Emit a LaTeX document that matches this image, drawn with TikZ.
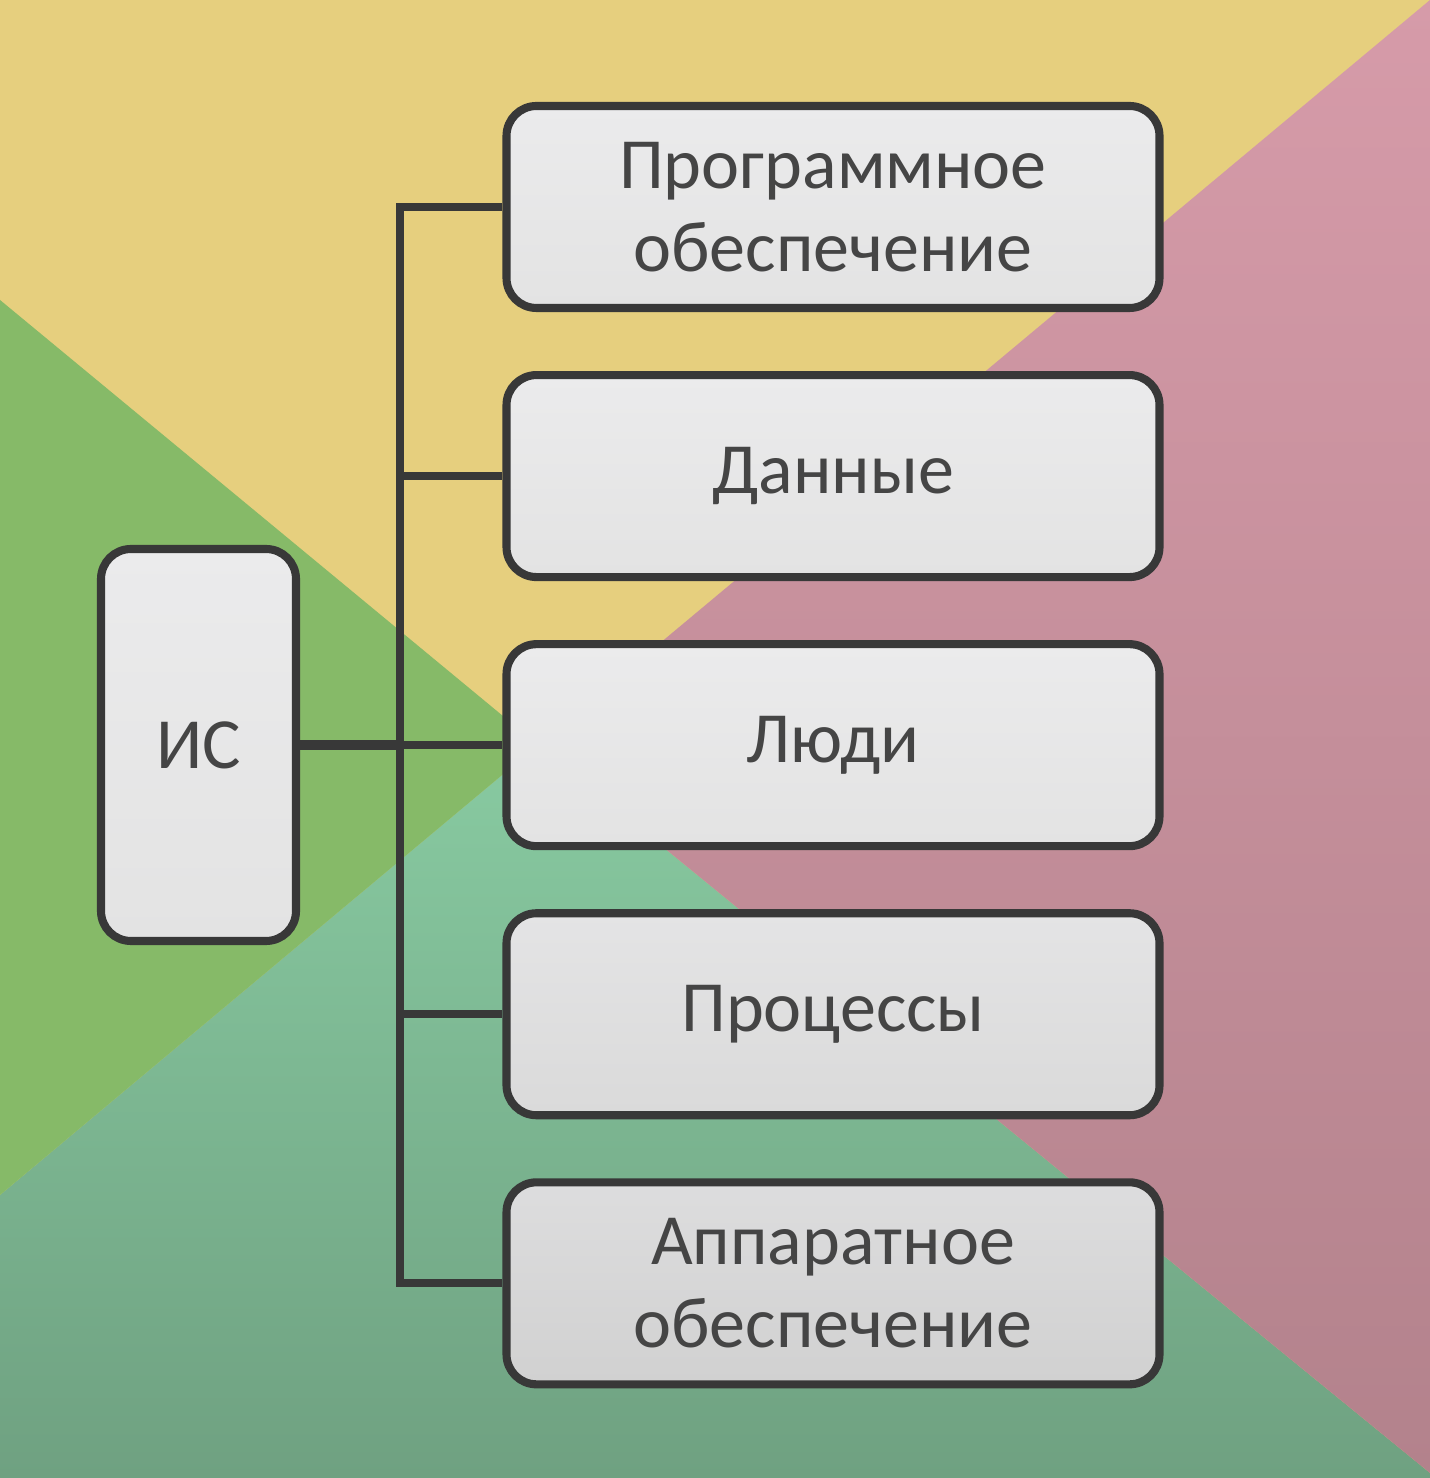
\documentclass[tikz,border=0pt]{standalone}
\usepackage{fontspec}
\setmainfont{Carlito}
\usetikzlibrary{positioning}
\definecolor{bgyellow}{HTML}{E6CF7E}
\definecolor{bggreen}{HTML}{86BA68}
\definecolor{bgtealtop}{HTML}{88CAA1}
\definecolor{bgtealbot}{HTML}{6FA181}
\definecolor{bgpinktop}{HTML}{D69BA9}
\definecolor{bgpinkbot}{HTML}{B3828C}
\definecolor{linegray}{HTML}{383838}
\definecolor{textgray}{HTML}{454545}
\definecolor{boxtop}{HTML}{EBEBEC}
\definecolor{boxbot}{HTML}{E3E3E3}
\tikzset{
	part/.style={rectangle, rounded corners=0.3cm, draw=linegray, line width=2.3pt,
		top color=boxtop, bottom color=boxbot, text=textgray, align=center,
		minimum width=6.53cm, minimum height=2.02cm,
		font=\fontsize{20.5}{23.6}\selectfont},
	link/.style={draw=linegray, line width=2.2pt}
}
\begin{document}
\begin{tikzpicture}
		\useasboundingbox (0,0) rectangle (14.3,14.78);
		% background
		\coordinate (apex) at (5.38,7.33);
		\fill [bgyellow] (0,0) rectangle (14.3,14.78);
		\shade [top color=bgtealtop, bottom color=bgtealbot] (0,2.83) -- (apex) -- (14.3,0.05) -- (14.3,0) -- (0,0) -- cycle;
		\fill [bggreen] (0,11.78) -- (apex) -- (0,2.83) -- cycle;
		\shade [top color=bgpinktop, bottom color=bgpinkbot] (apex) -- (14.3,14.78) -- (14.3,0.05) -- cycle;
		% nodes
		\node (is) at (1.985,7.33) [part, minimum width=1.95cm, minimum height=3.92cm] {ИС};
		\node (po) at (8.33,12.71) [part] {Программное \\ обеспечение};
		\node (data) [below=0.59cm of po, part] {Данные};
		\node (ppl) [below=0.59cm of data, part] {Люди};
		\node (proc) [below=0.59cm of ppl, part, top color=boxtop!97!black, bottom color=boxbot!96!black] {Процессы};
		\node (hw) [below=0.59cm of proc, part, top color=boxtop!94!black, bottom color=boxbot!92!black] {Аппаратное \\ обеспечение};
		% connectors
		\path (is.east) ++(1.0,0) coordinate (c0);
		\path [link, line width=2.8pt] (is) -- (c0);
		\path [link] (po.west) -- (c0|-po) -- (c0|-hw) -- (hw.west);
		\path [link] (c0|-data) -- (data);
		\path [link] (c0|-ppl) -- (ppl);
		\path [link] (c0|-proc) -- (proc);
	\end{tikzpicture}
\end{document}
